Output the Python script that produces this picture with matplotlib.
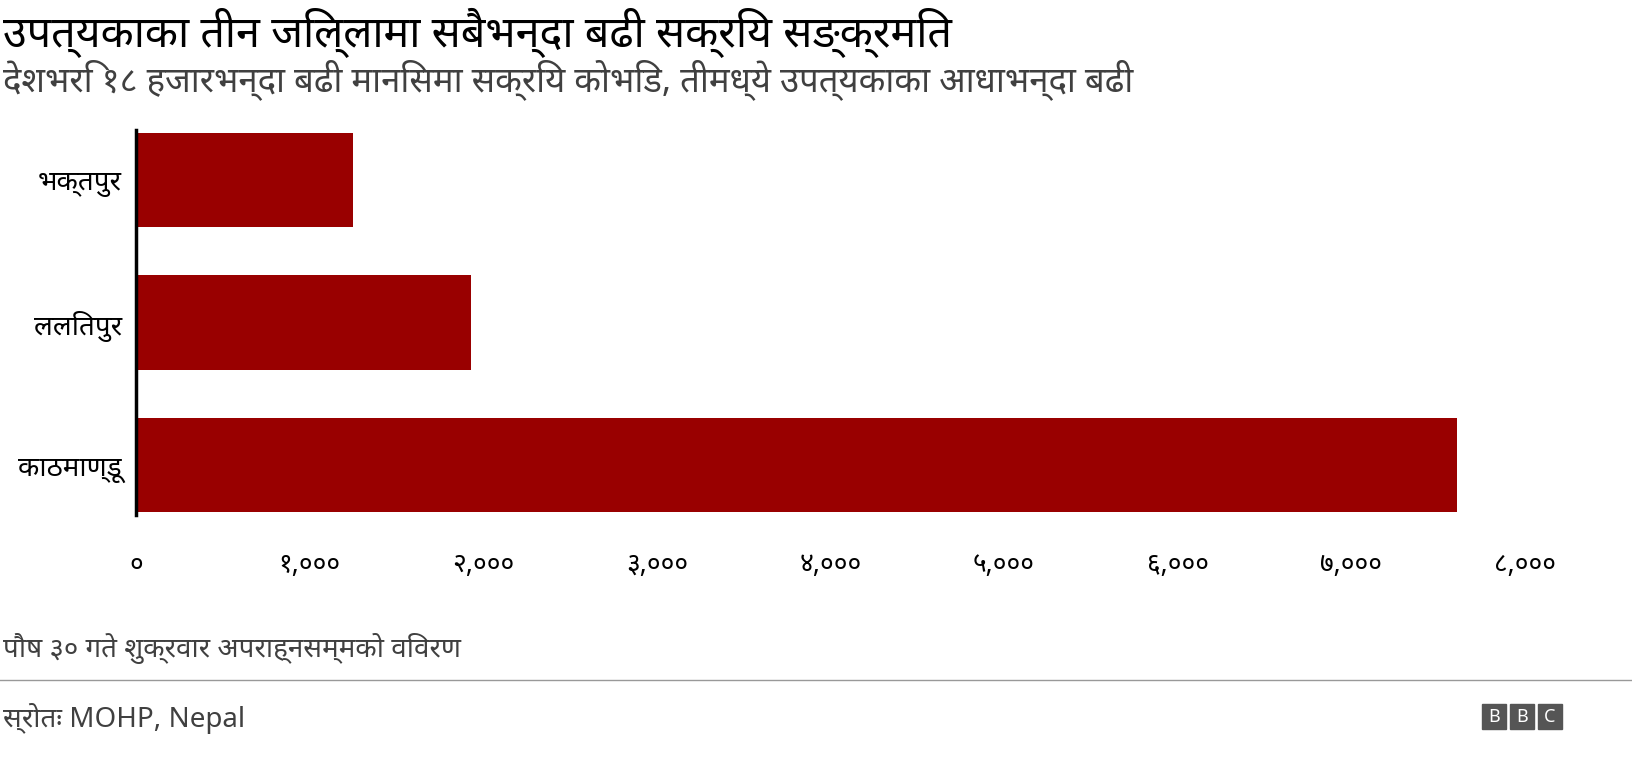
import matplotlib
matplotlib.use("Agg")
import matplotlib.pyplot as plt
from matplotlib.patches import Rectangle

districts = ["काठमाण्डू", "ललितपुर", "भक्तपुर"]
values = [7610, 1930, 1250]
xticks = [0, 1000, 2000, 3000, 4000, 5000, 6000, 7000, 8000]
xticklabels = ["०", "१,०००", "२,०००", "३,०००", "४,०००", "५,०००", "६,०००", "७,०००", "८,०००"]
title = "उपत्यकाका तीन जिल्लामा सबैभन्दा बढी सक्रिय सङ्क्रमित"
subtitle = "देशभरि १८ हजारभन्दा बढी मानिसमा सक्रिय कोभिड, तीमध्ये उपत्यकाका आधाभन्दा बढी"
note = "पौष ३० गते शुक्रवार अपराह्नसम्मको विवरण"
source = "स्रोतः MOHP, Nepal"

plt.rcParams['font.family'] = ['Noto Sans', 'DejaVu Sans', 'Liberation Sans']
fig = plt.figure(figsize=(16.32, 7.74), dpi=100)
ax = fig.add_axes([136/1632, 1-515/774, (1525-136)/1632, (515-130)/774])
ax.barh(range(3), values, height=0.66, color="#990000")
ax.set_xlim(0, 8000)
ax.set_ylim(-0.35, 2.35)
ax.set_yticks(range(3))
ax.set_yticklabels(districts, fontsize=20)
ax.set_xticks(xticks)
ax.set_xticklabels(xticklabels, fontsize=19)
ax.tick_params(length=0, pad=10)
ax.tick_params(axis='x', pad=26)
for s in ["top", "right", "bottom"]:
    ax.spines[s].set_visible(False)
ax.spines["left"].set_linewidth(2.5)

fig.text(0.002, 0.957, title, fontsize=31, fontweight="bold", va="center")
fig.text(0.002, 0.897, subtitle, fontsize=25, color="#404040", va="center")
fig.text(0.002, 0.162, note, fontsize=20, color="#404040", va="center")
fig.add_artist(plt.Line2D([0, 1], [0.122, 0.122], color="#999999", lw=1))
fig.text(0.002, 0.072, source, fontsize=20, color="#404040", va="center")
for i, ch in enumerate("BBC"):
    x0 = 1482/1632 + i*28/1632
    fig.add_artist(Rectangle((x0, 0.058), 24/1632, 0.032, color="#555555", transform=fig.transFigure))
    fig.text(x0 + 12/1632, 0.074, ch, color="white", fontsize=13, fontweight="bold", ha="center", va="center")
fig.savefig("out.png", dpi=100)
